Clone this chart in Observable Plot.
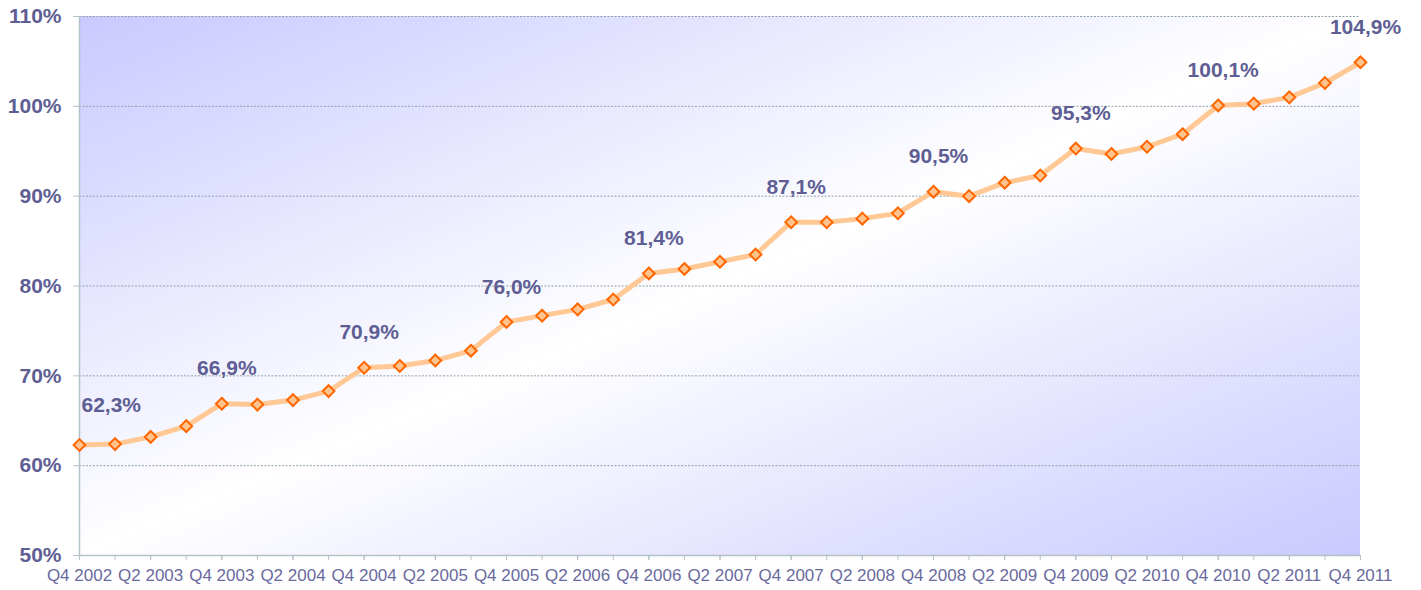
<!DOCTYPE html>
<html><head><meta charset="utf-8">
<script src="https://cdn.jsdelivr.net/npm/d3@7"></script>
<script src="https://cdn.jsdelivr.net/npm/@observablehq/plot@0.6"></script>
<style>html,body{margin:0;padding:0;background:#fff;}#chart{width:1421px;height:590px;}</style>
</head><body><div id="chart"></div>
<script>
const quarters = [
  "Q4 2002",
  "Q1 2003","Q2 2003","Q3 2003","Q4 2003",
  "Q1 2004","Q2 2004","Q3 2004","Q4 2004",
  "Q1 2005","Q2 2005","Q3 2005","Q4 2005",
  "Q1 2006","Q2 2006","Q3 2006","Q4 2006",
  "Q1 2007","Q2 2007","Q3 2007","Q4 2007",
  "Q1 2008","Q2 2008","Q3 2008","Q4 2008",
  "Q1 2009","Q2 2009","Q3 2009","Q4 2009",
  "Q1 2010","Q2 2010","Q3 2010","Q4 2010",
  "Q1 2011","Q2 2011","Q3 2011","Q4 2011"
];
const values = [
  62.3, 62.4, 63.2, 64.4,
  66.9, 66.8, 67.3, 68.3,
  70.9, 71.1, 71.7, 72.8,
  76.0, 76.7, 77.4, 78.5,
  81.4, 81.9, 82.7, 83.5,
  87.1, 87.1, 87.5, 88.1,
  90.5, 90.0, 91.5, 92.3,
  95.3, 94.7, 95.5, 96.9,
  100.1, 100.3, 101.0, 102.6,
  104.9
];
const xTickLabels = [
  "Q4 2002","Q2 2003","Q4 2003","Q2 2004","Q4 2004","Q2 2005","Q4 2005",
  "Q2 2006","Q4 2006","Q2 2007","Q4 2007","Q2 2008","Q4 2008","Q2 2009",
  "Q4 2009","Q2 2010","Q4 2010","Q2 2011","Q4 2011"
];
const labeledQuarters = [
  "Q4 2002","Q4 2003","Q4 2004","Q4 2005","Q4 2006",
  "Q4 2007","Q4 2008","Q4 2009","Q4 2010","Q4 2011"
];
const yTicks = [50, 60, 70, 80, 90, 100, 110];

const data = quarters.map((q, i) => ({q, v: values[i]}));
const labelData = data.filter(d => labeledQuarters.includes(d.q));
const fmt = v => d3.format(".1f")(v).replace(".", ",") + "%";

const textColor = "#5e5e94";
const axisColor = "#b2c2c6";

function background(index, scales, values, dims) {
  const {width, height, marginLeft, marginRight, marginTop, marginBottom} = dims;
  const g = d3.create("svg:g");
  const grad = g.append("defs").append("linearGradient")
    .attr("id", "bggrad").attr("x1", 0).attr("y1", 0).attr("x2", 1).attr("y2", 1);
  grad.append("stop").attr("offset", "0%").attr("stop-color", "#c9c9ff");
  grad.append("stop").attr("offset", "50%").attr("stop-color", "#ffffff");
  grad.append("stop").attr("offset", "100%").attr("stop-color", "#c9c9ff");
  g.append("rect")
    .attr("x", marginLeft).attr("y", marginTop)
    .attr("width", width - marginLeft - marginRight)
    .attr("height", height - marginTop - marginBottom)
    .attr("fill", "url(#bggrad)");
  return g.node();
}

const chart = Plot.plot({
  width: 1421,
  height: 590,
  marginLeft: 79,
  marginRight: 61,
  marginTop: 16,
  marginBottom: 35,
  style: {fontFamily: "'Liberation Sans', Arial, sans-serif", background: "#fff", overflow: "visible"},
  x: {type: "point", domain: quarters, padding: 0, round: false, label: null},
  y: {domain: [50, 110], label: null},
  marks: [
    background,
    Plot.gridY(yTicks.slice(1), {stroke: "#8fa3a6", strokeOpacity: 1, strokeDasharray: "2,1.5", strokeWidth: 1}),
    Plot.ruleY([50], {stroke: axisColor, strokeWidth: 1.5}),
    Plot.ruleX([quarters[0]], {stroke: axisColor, strokeWidth: 1.5}),
    Plot.axisY({ticks: yTicks, tickFormat: d => d + "%", tickSize: 6, tickPadding: 12, label: null,
      fontSize: 21, fontWeight: "bold", fill: textColor, stroke: axisColor}),
    Plot.axisX({ticks: quarters, tickSize: 5, tickFormat: () => "", label: null, stroke: axisColor}),
    Plot.axisX({ticks: xTickLabels, tickSize: 5, tickPadding: 8, label: null, fontSize: 17,
      fill: "#6a6a9e", stroke: axisColor}),
    Plot.line(data, {x: "q", y: "v", stroke: "#ffc894", strokeWidth: 5, strokeLinejoin: "round"}),
    Plot.dot(data, {x: "q", y: "v", symbol: "diamond2", r: 5.3, stroke: "#ff6600", strokeWidth: 2, fill: "#ffc48e"}),
    Plot.text(labelData.slice(0, 1), {x: "q", y: "v", text: d => fmt(d.v), dy: -40, dx: 2, textAnchor: "start",
      fontSize: 21, fontWeight: "bold", fill: textColor}),
    Plot.text(labelData.slice(1), {x: "q", y: "v", text: d => fmt(d.v), dy: -35, dx: 5,
      fontSize: 21, fontWeight: "bold", fill: textColor})
  ]
});
document.getElementById("chart").appendChild(chart);
</script>
</body></html>
